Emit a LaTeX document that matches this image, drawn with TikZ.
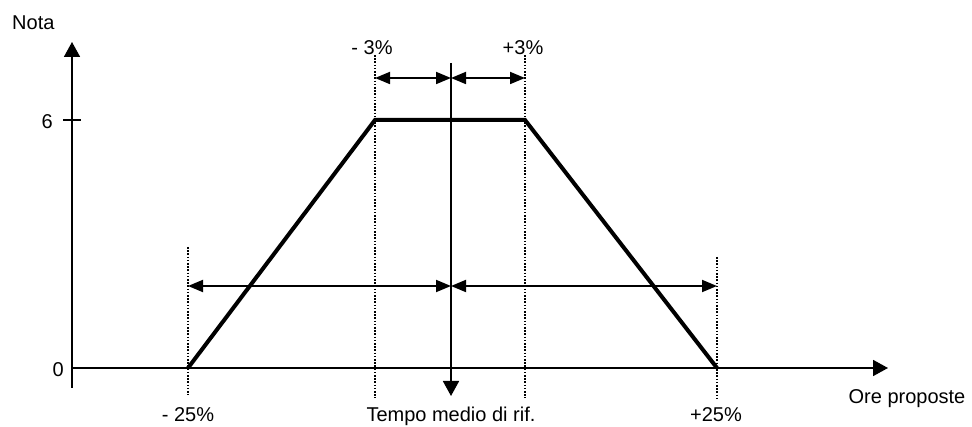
\documentclass[tikz,border=0pt]{standalone}
\usepackage{fontspec}
\setmainfont{Liberation Sans}
\usetikzlibrary{positioning, calc, arrows.meta}
\tikzstyle{Arrow} = [
    line width=1.8pt,
    -{Triangle[length=15pt, width=16pt]}
]
\tikzstyle{Span} = [
    line width=1.8pt,
    {Triangle[length=15pt, width=12pt]}-{Triangle[length=15pt, width=12pt]}
]

\begin{document}
\begin{tikzpicture}[
x=1pt, y=-1pt,
guide/.style={
    line width=1.6pt,
    dash pattern=on 1.6pt off 1.6pt
    },
lbl/.style={
    font=\fontsize{20}{24}\selectfont,
    inner sep=0pt,
    anchor=base
    }
]
\useasboundingbox (0,0) rectangle (972,427);

% axes
\coordinate (O) at (72,368);
\coordinate (ytop) at (72,42);
\coordinate (ybot) at (72,388);
\coordinate (xend) at (888,368);
\coordinate (t1) at (63,120);
\coordinate (t2) at (81,120);

\draw[Arrow] (ybot) -- (ytop);
\draw[Arrow] (O) -- (xend);
\draw[line width=1.8pt] (t1) -- (t2);

\node [lbl, anchor=base west] (nota) at (12,30) {Nota};
\node [lbl, anchor=base east] (six) at (53,129) {6};
\node [lbl, anchor=base east] (zero) at (64,377) {0};
\node [lbl] (ore) at (907,403) {Ore proposte};

% trapezoid
\coordinate (p1) at (188,368);
\coordinate (p2) at (375,120);
\coordinate (p3) at (525,120);
\coordinate (p4) at (717,368);
\draw[line width=4pt, line join=miter] (p1) -- (p2) -- (p3) -- (p4);

% dotted guides
\coordinate (g1a) at (188,247);
\coordinate (g1b) at (188,395);
\coordinate (g2a) at (375,55);
\coordinate (g2b) at (375,398);
\coordinate (g3a) at (525,55);
\coordinate (g3b) at (525,398);
\coordinate (g4a) at (717,257);
\coordinate (g4b) at (717,398);
\draw[guide] (g1a) -- (g1b);
\draw[guide] (g2a) -- (g2b);
\draw[guide] (g3a) -- (g3b);
\draw[guide] (g4a) -- (g4b);

% reference time
\coordinate (m1) at (451,63);
\coordinate (m2) at (451,396);
\draw[Arrow] (m1) -- (m2);

\coordinate (a1) at (375,78);
\coordinate (a2) at (451,78);
\coordinate (a3) at (525,78);
\draw[Span] (a1) -- (a2);
\draw[Span] (a2) -- (a3);

\coordinate (b1) at (188,286);
\coordinate (b2) at (451,286);
\coordinate (b3) at (717,286);
\draw[Span] (b1) -- (b2);
\draw[Span] (b2) -- (b3);

\node [lbl] (m3) at (372,55) {- 3\%};
\node [lbl] (p3l) at (523,55) {+3\%};
\node [lbl] (m25) at (188,421) {- 25\%};
\node [lbl] (tempo) at (451,421) {Tempo medio di rif.};
\node [lbl] (p25) at (716,421) {+25\%};

\end{tikzpicture}
\end{document}
